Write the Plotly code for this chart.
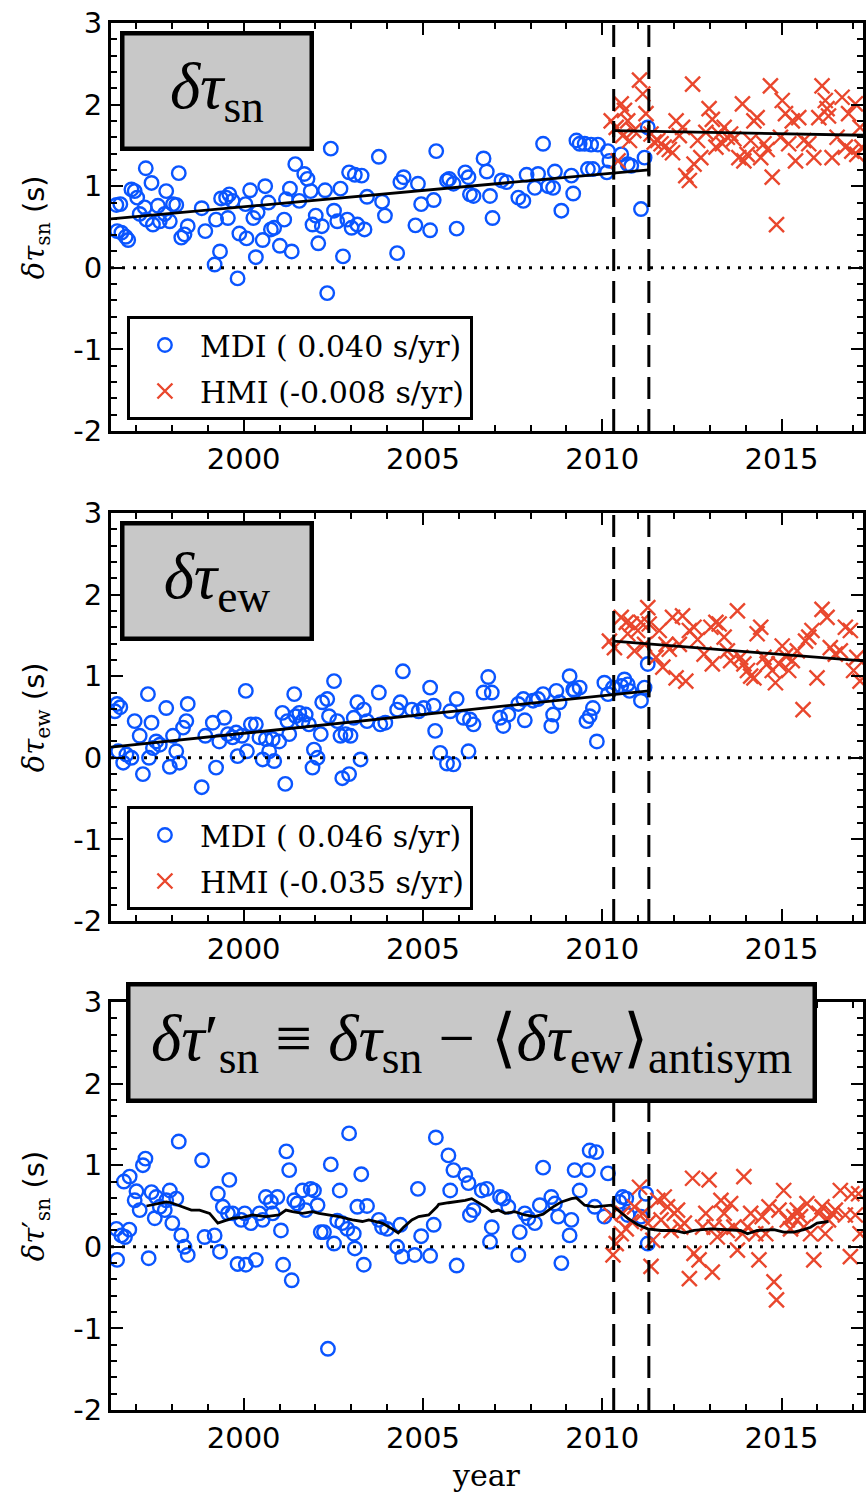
import plotly.graph_objects as go

# ---------------- travel-time shifts (s) ----------------
# panel 1: delta tau_sn
sn_mdi_year = [1996.45, 1996.56, 1996.47, 1996.59, 1996.71, 1996.78, 1996.87, 1996.96, 1997.03, 1997.10,
               1997.24, 1997.27, 1997.43, 1997.29, 1997.47, 1997.61, 1997.66, 1997.80, 1997.84, 1997.94,
               1998.03, 1998.12, 1998.19, 1998.26, 1998.35, 1998.44, 1998.83, 1998.93, 1999.19, 1999.23,
               1999.34, 1999.37, 1999.51, 1999.60, 1999.69, 1999.56, 1999.83, 1999.88, 2000.05, 2000.08,
               2000.18, 2000.27, 2000.34, 2000.39, 2000.53, 2000.60, 2000.69, 2000.76, 2000.85, 2001.01,
               2001.13, 2001.18, 2001.29, 2001.34, 2001.44, 2001.55, 2001.69, 2001.78, 2001.87, 2001.92,
               2002.01, 2002.08, 2002.18, 2002.27, 2002.33, 2002.43, 2002.52, 2002.61, 2002.70, 2002.77,
               2002.89, 2002.94, 2003.01, 2003.10, 2003.17, 2003.29, 2003.37, 2003.44, 2003.77, 2003.86,
               2003.94, 2004.28, 2004.37, 2004.46, 2004.79, 2004.86, 2004.95, 2005.20, 2005.30, 2005.37,
               2005.67, 2005.73, 2005.85, 2005.94, 2006.18, 2006.27, 2006.31, 2006.41, 2006.69, 2006.78,
               2006.87, 2006.94, 2007.19, 2007.33, 2007.66, 2007.80, 2007.89, 2008.12, 2008.21, 2008.35,
               2008.49, 2008.63, 2008.68, 2008.86, 2009.14, 2009.19, 2009.28, 2009.37, 2009.51, 2009.69,
               2009.60, 2009.74, 2009.88, 2010.16, 2010.13, 2010.20, 2010.53, 2010.71, 2010.81, 2011.08,
               2011.18, 2011.27]
sn_mdi_val = [0.77, 0.78, 0.45, 0.43, 0.38, 0.34, 0.96, 0.94, 0.86, 0.66,
              0.74, 1.22, 1.04, 0.59, 0.53, 0.76, 0.57, 0.66, 0.94, 0.57,
              0.78, 0.77, 1.16, 0.37, 0.41, 0.51, 0.73, 0.45, 0.04, 0.59,
              0.20, 0.85, 0.86, 0.90, 0.82, 0.61, -0.13, 0.42, 0.78, 0.36,
              0.95, 0.61, 0.13, 0.68, 0.34, 1.00, 0.80, 0.47, 0.49, 0.27,
              0.59, 0.84, 0.97, 0.20, 1.27, 0.82, 1.15, 1.09, 0.94, 0.53,
              0.64, 0.30, 0.51, 0.95, -0.31, 1.46, 0.70, 0.57, 0.97, 0.14,
              0.59, 1.17, 0.49, 1.14, 0.53, 1.13, 0.47, 0.87, 1.36, 0.81,
              0.64, 0.18, 1.05, 1.11, 0.52, 1.03, 0.78, 0.46, 0.83, 1.43,
              1.07, 1.09, 1.03, 0.48, 1.17, 1.11, 0.90, 0.88, 1.34, 1.18,
              0.88, 0.61, 1.07, 1.05, 0.86, 0.82, 1.14, 0.98, 1.15, 1.52,
              1.00, 0.98, 1.18, 0.70, 1.13, 0.91, 1.56, 1.52, 1.52, 1.51,
              1.21, 1.21, 1.51, 1.43, 1.17, 1.31, 1.39, 1.27, 1.25, 0.72,
              1.35, 1.72]
sn_hmi_year = [2010.25, 2010.39, 2010.44, 2010.53, 2010.57, 2010.62, 2010.71, 2010.76, 2010.88, 2011.04,
               2011.13, 2011.22, 2011.36, 2011.45, 2011.55, 2011.64, 2011.73, 2011.87, 2011.96, 2012.06,
               2012.15, 2012.24, 2012.33, 2012.43, 2012.52, 2012.56, 2012.66, 2012.75, 2012.89, 2012.98,
               2013.07, 2013.17, 2013.26, 2013.35, 2013.40, 2013.49, 2013.58, 2013.67, 2013.81, 2013.91,
               2013.95, 2014.04, 2014.14, 2014.23, 2014.32, 2014.42, 2014.51, 2014.60, 2014.69, 2014.74,
               2014.86, 2014.97, 2015.02, 2015.11, 2015.20, 2015.30, 2015.39, 2015.48, 2015.62, 2015.76,
               2015.90, 2016.04, 2016.13, 2016.22, 2016.27, 2016.31, 2016.41, 2016.55, 2016.69, 2016.78,
               2016.87, 2016.96, 2017.06, 2017.10, 2017.19, 2017.24]
sn_hmi_val = [1.80, 1.72, 1.31, 2.01, 1.62, 1.93, 1.80, 1.56, 1.68, 2.30,
              2.13, 1.89, 1.64, 1.54, 1.56, 1.52, 1.48, 1.45, 1.41, 1.80,
              1.62, 1.72, 1.13, 1.07, 2.25, 1.27, 1.56, 1.35, 1.66, 1.95,
              1.82, 1.48, 1.64, 1.52, 1.72, 1.60, 1.64, 1.58, 1.35, 2.01,
              1.31, 1.39, 1.56, 1.80, 1.84, 1.35, 1.52, 1.45, 2.23, 1.11,
              0.53, 1.60, 2.05, 1.89, 1.52, 1.80, 1.31, 1.84, 1.56, 1.52,
              1.35, 1.84, 2.23, 2.05, 1.95, 1.86, 1.35, 1.60, 2.09, 1.48,
              1.89, 1.43, 2.01, 1.39, 1.72, 1.48]

# panel 2: delta tau_ew
ew_mdi_year = [1996.41, 1996.47, 1996.56, 1996.50, 1996.64, 1996.73, 1996.87, 1996.96, 1997.10, 1997.19,
               1997.33, 1997.43, 1997.36, 1997.47, 1997.56, 1997.66, 1997.84, 1997.94, 1998.03, 1998.12,
               1998.21, 1998.31, 1998.40, 1998.44, 1998.83, 1998.93, 1999.14, 1999.23, 1999.32, 1999.46,
               1999.56, 1999.69, 1999.79, 1999.83, 1999.95, 2000.06, 2000.09, 2000.20, 2000.34, 2000.44,
               2000.53, 2000.62, 2000.71, 2000.81, 2000.85, 2000.99, 2001.08, 2001.16, 2001.22, 2001.27,
               2001.41, 2001.45, 2001.55, 2001.64, 2001.73, 2001.82, 2001.92, 2001.96, 2002.06, 2002.15,
               2002.19, 2002.33, 2002.38, 2002.52, 2002.61, 2002.70, 2002.75, 2002.84, 2002.94, 2002.98,
               2003.07, 2003.17, 2003.26, 2003.35, 2003.44, 2003.77, 2003.81, 2003.95, 2004.28, 2004.37,
               2004.44, 2004.69, 2004.88, 2005.02, 2005.20, 2005.30, 2005.34, 2005.48, 2005.67, 2005.85,
               2005.76, 2005.94, 2006.13, 2006.27, 2006.31, 2006.41, 2006.69, 2006.82, 2006.92, 2007.15,
               2007.24, 2007.38, 2007.66, 2007.80, 2007.84, 2008.07, 2008.21, 2008.35, 2008.58, 2008.63,
               2008.72, 2008.81, 2009.09, 2009.19, 2009.23, 2009.37, 2009.56, 2009.65, 2009.74, 2009.85,
               2010.06, 2010.16, 2010.30, 2010.53, 2010.62, 2010.71, 2010.76, 2011.08, 2011.18, 2011.27]
ew_mdi_val = [0.57, 0.66, 0.62, 0.08, -0.06, 0.04, 0.00, 0.45, 0.27, -0.20,
              0.78, 0.43, 0.00, 0.12, 0.20, 0.16, 0.61, -0.11, 0.27, 0.08,
              -0.06, 0.37, 0.45, 0.66, -0.36, 0.27, 0.43, -0.12, 0.20, 0.49,
              0.29, 0.25, 0.31, 0.02, 0.27, 0.82, 0.08, 0.41, 0.41, 0.25,
              -0.02, 0.23, 0.08, 0.23, -0.04, 0.20, 0.55, -0.32, 0.45, 0.29,
              0.78, 0.51, 0.55, 0.45, 0.53, 0.41, -0.12, 0.10, 0.00, 0.29,
              0.68, 0.72, 0.51, 0.94, 0.45, 0.27, -0.25, 0.29, -0.20, 0.27,
              0.49, 0.68, -0.02, 0.59, 0.45, 0.80, 0.41, 0.43, 0.59, 0.68,
              1.06, 0.59, 0.57, 0.61, 0.86, 0.64, 0.33, 0.06, -0.07, -0.08,
              0.57, 0.72, 0.49, 0.08, 0.47, 0.41, 0.80, 0.99, 0.80, 0.49,
              0.39, 0.53, 0.66, 0.72, 0.46, 0.70, 0.72, 0.78, 0.39, 0.53,
              0.82, 0.68, 1.00, 0.84, 0.82, 0.86, 0.45, 0.51, 0.61, 0.20,
              0.92, 0.78, 0.86, 0.88, 0.96, 0.90, 0.82, 0.70, 0.86, 1.15]
ew_hmi_year = [2010.20, 2010.34, 2010.53, 2010.67, 2010.71, 2010.81, 2010.90, 2010.99, 2011.08, 2011.18,
               2011.27, 2011.31, 2011.50, 2011.59, 2011.69, 2011.78, 2011.87, 2011.96, 2012.06, 2012.15,
               2012.24, 2012.33, 2012.43, 2012.56, 2012.66, 2012.84, 2013.03, 2013.07, 2013.17, 2013.26,
               2013.40, 2013.49, 2013.58, 2013.77, 2013.86, 2013.95, 2014.05, 2014.14, 2014.23, 2014.32,
               2014.42, 2014.51, 2014.60, 2014.74, 2014.83, 2014.93, 2015.02, 2015.11, 2015.20, 2015.30,
               2015.44, 2015.60, 2015.67, 2015.76, 2015.85, 2015.99, 2016.13, 2016.27, 2016.36, 2016.50,
               2016.64, 2016.78, 2016.92, 2017.01, 2017.10, 2017.19]
ew_hmi_val = [1.43, 1.35, 1.72, 1.66, 1.52, 1.64, 1.31, 1.56, 1.66, 1.39,
              1.84, 1.64, 1.23, 1.56, 1.11, 1.39, 1.33, 1.72, 0.98, 1.39,
              1.74, 0.94, 1.56, 1.60, 1.45, 1.27, 1.60, 1.15, 1.66, 1.64,
              1.48, 1.31, 1.19, 1.80, 1.23, 1.15, 1.07, 1.00, 0.98, 1.52,
              1.60, 1.23, 1.15, 1.07, 0.92, 1.15, 1.37, 1.25, 1.07, 1.19,
              1.31, 0.59, 1.43, 1.48, 1.56, 0.98, 1.82, 1.72, 1.35, 1.27,
              1.31, 1.60, 1.56, 1.07, 1.23, 0.94]

# panel 3: corrected delta tau_sn'
snp_mdi_year = [1996.45, 1996.47, 1996.59, 1996.69, 1996.66, 1996.81, 1996.82, 1996.96, 1997.01, 1997.10,
                1997.19, 1997.26, 1997.35, 1997.43, 1997.52, 1997.56, 1997.66, 1997.80, 1997.84, 1997.94,
                1998.01, 1998.12, 1998.19, 1998.26, 1998.35, 1998.44, 1998.84, 1998.91, 1999.19, 1999.28,
                1999.34, 1999.42, 1999.60, 1999.56, 1999.69, 1999.83, 1999.93, 2000.06, 2000.03, 2000.20,
                2000.34, 2000.44, 2000.53, 2000.62, 2000.76, 2000.81, 2000.94, 2001.04, 2001.10, 2001.19,
                2001.27, 2001.34, 2001.41, 2001.50, 2001.64, 2001.73, 2001.87, 2001.96, 2002.06, 2002.15,
                2002.24, 2002.35, 2002.43, 2002.52, 2002.61, 2002.68, 2002.75, 2002.89, 2002.94, 2003.07,
                2003.10, 2003.17, 2003.28, 2003.35, 2003.44, 2003.77, 2003.86, 2004.00, 2004.28, 2004.37,
                2004.42, 2004.77, 2004.86, 2004.95, 2005.20, 2005.30, 2005.36, 2005.71, 2005.85, 2005.76,
                2005.94, 2006.18, 2006.27, 2006.31, 2006.41, 2006.64, 2006.78, 2006.87, 2006.92, 2007.15,
                2007.24, 2007.38, 2007.66, 2007.70, 2007.84, 2007.94, 2008.12, 2008.26, 2008.35, 2008.58,
                2008.68, 2008.77, 2008.86, 2009.09, 2009.14, 2009.23, 2009.37, 2009.60, 2009.65, 2009.83,
                2009.79, 2010.06, 2010.16, 2010.48, 2010.57, 2010.67, 2010.71, 2011.08, 2011.22, 2011.27]
snp_mdi_val = [0.22, -0.16, 0.14, 0.12, 0.80, 0.21, 0.86, 0.57, 0.68, 0.45,
               1.00, 1.08, -0.14, 0.67, 0.35, 0.61, 0.49, 0.45, 0.57, 0.69,
               0.29, 0.59, 1.29, 0.14, 0.00, -0.10, 1.06, 0.12, 0.14, 0.65,
               -0.06, 0.49, 0.82, 0.41, 0.41, -0.21, 0.33, -0.22, 0.41, 0.29,
               -0.16, 0.41, 0.33, 0.61, 0.55, 0.41, 0.61, 0.20, -0.22, 1.17,
               0.94, -0.41, 0.57, 0.53, 0.69, 0.45, 0.71, 0.69, 0.51, 0.18,
               0.18, -1.25, 1.01, 0.04, 0.32, 0.69, 0.29, 0.22, 1.39, 0.16,
               -0.02, 0.49, 0.89, -0.22, 0.50, 0.33, 0.24, 0.22, 0.00, 0.27,
               -0.12, -0.10, 0.71, 0.13, -0.11, 0.27, 1.34, 1.12, 0.94, 0.69,
               -0.23, 0.88, 0.78, 0.39, 0.45, 0.69, 0.71, 0.06, 0.24, 0.61,
               0.59, 0.49, -0.10, 0.18, 0.41, 0.35, 0.29, 0.51, 0.97, 0.61,
               0.53, 0.37, -0.20, 0.14, 0.33, 0.94, 0.69, 0.94, 1.18, 1.16,
               0.49, 0.37, 0.90, 0.55, 0.61, 0.59, 0.39, 0.37, 0.65, 0.04]
snp_hmi_year = [2010.25, 2010.30, 2010.39, 2010.53, 2010.57, 2010.67, 2010.81, 2010.90, 2011.04, 2011.13,
                2011.27, 2011.36, 2011.41, 2011.55, 2011.64, 2011.73, 2011.82, 2011.92, 2012.01, 2012.10,
                2012.19, 2012.29, 2012.43, 2012.52, 2012.56, 2012.70, 2012.80, 2012.89, 2012.98, 2013.07,
                2013.12, 2013.21, 2013.31, 2013.40, 2013.49, 2013.58, 2013.67, 2013.77, 2013.91, 2013.95,
                2014.05, 2014.14, 2014.28, 2014.37, 2014.46, 2014.56, 2014.65, 2014.79, 2014.86, 2014.93,
                2015.06, 2015.16, 2015.25, 2015.34, 2015.44, 2015.53, 2015.62, 2015.71, 2015.81, 2015.90,
                2016.04, 2016.13, 2016.22, 2016.31, 2016.41, 2016.50, 2016.64, 2016.78, 2016.92, 2016.96,
                2017.06, 2017.15, 2017.19]
snp_hmi_val = [0.39, -0.10, 0.04, 0.16, 0.41, 0.22, 0.31, 0.49, 0.73, 0.41,
               0.29, -0.24, 0.08, 0.57, 0.33, 0.61, 0.49, 0.20, 0.41, 0.45,
               0.24, 0.29, -0.39, 0.84, -0.08, -0.16, 0.24, 0.41, 0.82, -0.31,
               0.24, 0.12, 0.57, 0.41, 0.20, 0.53, 0.24, -0.04, 0.16, 0.86,
               0.24, 0.41, 0.16, -0.16, 0.37, 0.16, 0.49, -0.43, -0.65, 0.45,
               0.69, 0.33, 0.22, 0.37, 0.45, 0.37, 0.24, 0.53, 0.16, -0.16,
               0.41, 0.49, 0.16, 0.33, 0.41, 0.45, 0.69, 0.39, -0.12, 0.65,
               0.39, 0.65, 0.16]

# running mean of delta tau_sn'
smooth_year = [1997.29, 1997.56, 1997.84, 1997.98, 1998.21, 1998.54, 1998.77, 1999.05, 1999.28, 1999.69,
               1999.97, 2000.25, 2000.62, 2000.99, 2001.18, 2001.36, 2001.64, 2001.92, 2002.10, 2002.38,
               2002.66, 2003.03, 2003.31, 2003.49, 2003.86, 2004.14, 2004.31, 2004.46, 2004.69, 2004.88,
               2005.16, 2005.39, 2005.44, 2005.71, 2005.90, 2006.18, 2006.36, 2006.55, 2006.78, 2006.92,
               2007.10, 2007.29, 2007.56, 2007.84, 2008.12, 2008.35, 2008.63, 2008.86, 2009.14, 2009.28,
               2009.51, 2009.79, 2010.06, 2010.25, 2010.44, 2010.71, 2010.99, 2011.27, 2011.64, 2012.01,
               2012.29, 2012.56, 2013.03, 2013.49, 2013.86, 2014.05, 2014.32, 2014.79, 2015.06, 2015.34,
               2015.62, 2015.81, 2015.99, 2016.31]
smooth_val = [0.50, 0.52, 0.55, 0.54, 0.50, 0.45, 0.45, 0.41, 0.29, 0.35,
              0.36, 0.39, 0.37, 0.39, 0.45, 0.43, 0.41, 0.43, 0.41, 0.39,
              0.37, 0.33, 0.31, 0.33, 0.29, 0.22, 0.17, 0.24, 0.33, 0.37,
              0.39, 0.49, 0.52, 0.54, 0.55, 0.57, 0.59, 0.54, 0.48, 0.43,
              0.45, 0.41, 0.43, 0.39, 0.37, 0.40, 0.49, 0.55, 0.59, 0.60,
              0.51, 0.49, 0.50, 0.51, 0.45, 0.35, 0.27, 0.22, 0.20, 0.20,
              0.17, 0.20, 0.22, 0.21, 0.20, 0.16, 0.20, 0.21, 0.18, 0.18,
              0.21, 0.24, 0.29, 0.31]

# linear trends (s/yr) and their values at the start of each fit interval
mdi_slope = [0.040, 0.046]
hmi_slope = [-0.008, -0.035]
mdi_fit_start = [0.60, 0.13]
hmi_fit_start = [1.68, 1.43]
mdi_fit_span = [1996.30, 2011.30]
hmi_fit_span = [2010.32, 2017.30]
overlap_years = [2010.32, 2011.30]
trend_err = 0.08

x_ticks = [2000, 2005, 2010, 2015]
y_ticks = [-2, -1, 0, 1, 2, 3]
y_ticktext = ["-2", "-1", "0", "1", "2", "3"]

# ---------------- layout helpers ----------------
W, H = 867, 1498
ML, MR, MT, MB = 111, 1, 23, 88
PW, PH = W - ML - MR, H - MT - MB
X_RANGE = [1996.3, 1996.3 + PW / 36.0]


def fx(px):
    return (px - ML) / PW


def fy(px):
    return (H - MB - px) / PH


panel_px = [(23, 431), (513, 921), (1002, 1410)]

BLUE = "#0a55ff"
RED = "#e9472d"
SERIF = "Liberation Serif"

fig = go.Figure()


def add_panel(k, mdi_x, mdi_y, hmi_x, hmi_y, legend_name):
    xa = "x" if k == 0 else f"x{k + 1}"
    ya = "y" if k == 0 else f"y{k + 1}"
    show = legend_name is not None
    fig.add_trace(go.Scatter(
        x=mdi_x, y=mdi_y, mode="markers", xaxis=xa, yaxis=ya,
        marker=dict(symbol="circle-open", size=13.5, color=BLUE, line=dict(width=2.4, color=BLUE)),
        name=f"MDI ({mdi_slope[k]: .3f} s/yr)" if show else "MDI",
        showlegend=show, legend=legend_name, legendgroup=f"mdi{k}"))
    fig.add_trace(go.Scatter(
        x=hmi_x, y=hmi_y, mode="markers", xaxis=xa, yaxis=ya,
        marker=dict(symbol="x-thin-open", size=15, color=RED, line=dict(width=2.4, color=RED)),
        name=f"HMI ({hmi_slope[k]: .3f} s/yr)" if show else "HMI",
        showlegend=show, legend=legend_name, legendgroup=f"hmi{k}"))


add_panel(0, sn_mdi_year, sn_mdi_val, sn_hmi_year, sn_hmi_val, "legend")
add_panel(1, ew_mdi_year, ew_mdi_val, ew_hmi_year, ew_hmi_val, "legend2")
add_panel(2, snp_mdi_year, snp_mdi_val, snp_hmi_year, snp_hmi_val, None)

# trend lines with uncertainty ticks at the overlap boundaries
for k in range(2):
    xa = "x" if k == 0 else f"x{k + 1}"
    ya = "y" if k == 0 else f"y{k + 1}"
    for slope, start, span in ((mdi_slope[k], mdi_fit_start[k], mdi_fit_span),
                               (hmi_slope[k], hmi_fit_start[k], hmi_fit_span)):
        fx_ = list(span)
        fy_ = [start + slope * (t - span[0]) for t in fx_]
        fig.add_trace(go.Scatter(x=fx_, y=fy_, mode="lines", xaxis=xa, yaxis=ya,
                                 line=dict(color="black", width=2.8), showlegend=False))
        ex = list(overlap_years)
        ey = [start + slope * (t - span[0]) for t in ex]
        fig.add_trace(go.Scatter(x=ex, y=ey, mode="markers", xaxis=xa, yaxis=ya,
                                 marker=dict(size=1, color="black", opacity=0),
                                 error_y=dict(type="constant", value=trend_err, color="black",
                                              thickness=3, width=0),
                                 showlegend=False))

fig.add_trace(go.Scatter(x=smooth_year, y=smooth_val, mode="lines", xaxis="x3", yaxis="y3",
                         line=dict(color="black", width=2.8), showlegend=False))

# axes
tickfont = dict(family="DejaVu Sans", size=29, color="black")
for k, (top, bot) in enumerate(panel_px):
    sx = "" if k == 0 else str(k + 1)
    fig.layout["xaxis" + sx] = dict(
        domain=[0, 1], anchor="y" + sx, range=X_RANGE, tickvals=x_ticks,
        ticks="inside", ticklen=12, tickwidth=2, tickcolor="black",
        showline=True, linewidth=3, linecolor="black", mirror="ticks",
        showgrid=False, zeroline=False, tickfont=tickfont,
        minor=dict(ticks="inside", ticklen=6, tickwidth=1.5, tickcolor="black",
                   dtick=1, tick0=2000, showgrid=False))
    fig.layout["yaxis" + sx] = dict(
        domain=[fy(bot), fy(top)], anchor="x" + sx, range=[-2, 3],
        tickvals=y_ticks, ticktext=y_ticktext,
        ticks="inside", ticklen=12, tickwidth=2, tickcolor="black",
        showline=True, linewidth=3, linecolor="black", mirror="ticks",
        showgrid=False, zeroline=False, tickfont=tickfont,
        minor=dict(ticks="inside", ticklen=6, tickwidth=1.5, tickcolor="black",
                   dtick=0.2, tick0=0, showgrid=False))

# reference lines
shapes = []
for k in range(3):
    sx = "" if k == 0 else str(k + 1)
    shapes.append(dict(type="line", xref=f"x{sx} domain", yref=f"y{sx}", x0=0, x1=1, y0=0, y1=0,
                       line=dict(color="black", width=3, dash="3px,8px")))
    for t in overlap_years:
        shapes.append(dict(type="line", xref=f"x{sx}", yref=f"y{sx} domain", x0=t, x1=t, y0=0, y1=1,
                           line=dict(color="black", width=3, dash="22px,10px")))

# label boxes
box_style = dict(xref="paper", yref="paper", showarrow=False, xanchor="left", yanchor="top",
                 bgcolor="#c8c8c8", bordercolor="black", borderwidth=4.5, borderpad=0,
                 align="center", valign="middle", font=dict(family=SERIF, size=65, color="black"))
annotations = [
    dict(text="<i>δτ</i><sub>sn</sub>", x=fx(120), y=fy(31), width=185, height=111, **box_style),
    dict(text="<i>δτ</i><sub>ew</sub>", x=fx(120), y=fy(521), width=185, height=111, **box_style),
    dict(text="<i>δτ</i>′<sub>sn</sub> ≡ <i>δτ</i><sub>sn</sub> − ⟨<i>δτ</i><sub>ew</sub>⟩<sub>antisym</sub>",
         x=fx(126), y=fy(982), width=682, height=112, **box_style),
]

# axis titles
ylabels = ["<i>δτ</i><sub>sn</sub> <span style='font-family:DejaVu Sans'>(s)</span>",
           "<i>δτ</i><sub>ew</sub> <span style='font-family:DejaVu Sans'>(s)</span>",
           "<i>δτ</i>′<sub>sn</sub> <span style='font-family:DejaVu Sans'>(s)</span>"]
for k, (top, bot) in enumerate(panel_px):
    annotations.append(dict(text=ylabels[k], xref="paper", yref="paper", x=fx(36), y=fy((top + bot) / 2),
                            xanchor="center", yanchor="middle", textangle=-90, showarrow=False,
                            font=dict(family="DejaVu Serif", size=29, color="black")))
annotations.append(dict(text="year", xref="paper", yref="paper", x=fx(488), y=fy(1476),
                        xanchor="center", yanchor="middle", showarrow=False,
                        font=dict(family="DejaVu Serif", size=30, color="black")))

legend_style = dict(xanchor="left", yanchor="top", bgcolor="white", bordercolor="black", borderwidth=3,
                    font=dict(family="DejaVu Serif", size=30, color="black"),
                    itemwidth=60, tracegroupgap=4, traceorder="grouped")

fig.update_layout(
    width=W, height=H, margin=dict(l=ML, r=MR, t=MT, b=MB),
    paper_bgcolor="white", plot_bgcolor="white",
    shapes=shapes, annotations=annotations,
    legend=dict(x=fx(127), y=fy(316), **legend_style),
    legend2=dict(x=fx(127), y=fy(806), **legend_style),
)

fig.write_html("out.html")
